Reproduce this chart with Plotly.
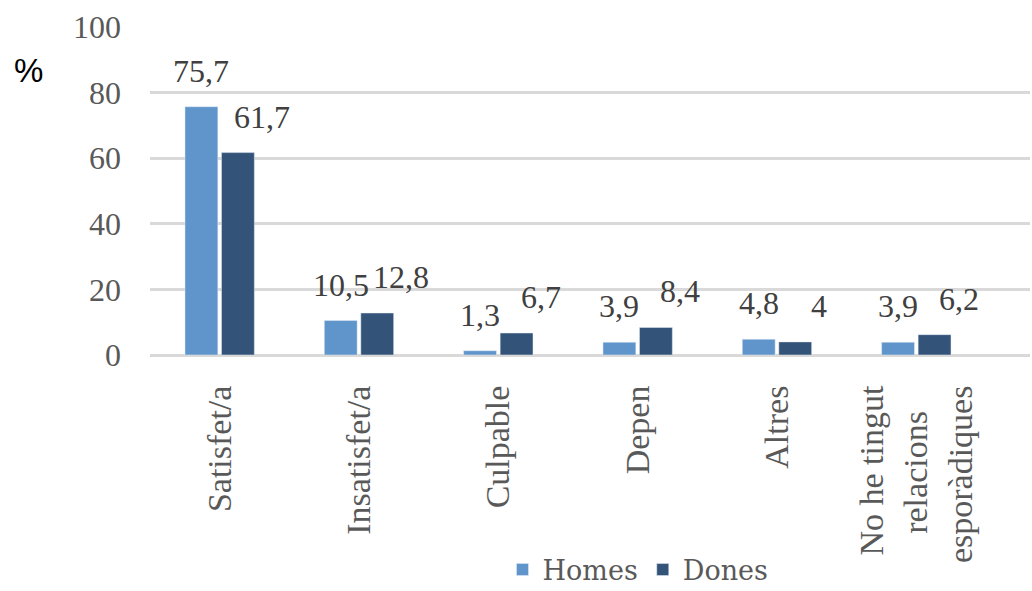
import plotly.graph_objects as go

NB = "\u00a0"
categories = ["Satisfet/a", "Insatisfet/a", "Culpable", "Depen", "Altres",
              "No he tingut<br>relacions" + NB * 3 + "<br>esporàdiques"]
homes = [75.7, 10.5, 1.3, 3.9, 4.8, 3.9]
dones = [61.7, 12.8, 6.7, 8.4, 4.0, 6.2]
y_ticks = [0, 20, 40, 60, 80, 100]

c_homes = "#5F95CA"
c_dones = "#345378"
serif = "Times New Roman, Liberation Serif, serif"
gray = "#595959"

def fmt(v):
    s = ("%.1f" % v).replace(".", ",")
    return s[:-2] if s.endswith(",0") else s

fig = go.Figure()
fig.add_bar(x=categories, y=homes, name="Homes", marker_color=c_homes,
            offsetgroup="h")
fig.add_bar(x=categories, y=dones, name="Dones", marker_color=c_dones,
            offsetgroup="d")

W, H, L, R, T, B = 1032, 591, 150, 2, 27, 236
x_range = [-0.5, 5.816]
bargap = 0.476
cat_w = (W - L - R) / (x_range[1] - x_range[0])
bar_slot = cat_w * (1 - bargap) / 2
ph = H - T - B
pw = W - L - R

for i, (h, d) in enumerate(zip(homes, dones)):
    fig.add_annotation(x=categories[i], y=h, text=fmt(h), showarrow=False,
                       xshift=-bar_slot / 2, yshift=16, yanchor="bottom",
                       font=dict(family=serif, size=32, color="#404040"))
    fig.add_annotation(x=categories[i], y=d, text=fmt(d), showarrow=False,
                       xshift=bar_slot / 2 + 24, yshift=16, yanchor="bottom",
                       font=dict(family=serif, size=32, color="#404040"))

fig.add_annotation(xref="paper", yref="paper", x=(12 - L) / pw,
                   y=1 - (70 - T) / ph, text="%",
                   showarrow=False, xanchor="left", yanchor="middle",
                   font=dict(family="Liberation Sans, Arial", size=33, color="black"))

fig.update_layout(
    width=W, height=H,
    margin=dict(l=L, r=R, t=T, b=B, autoexpand=False),
    paper_bgcolor="white", plot_bgcolor="white",
    barmode="group", bargap=bargap, bargroupgap=0.1,
    showlegend=True,
    legend=dict(orientation="h", x=(638 - L) / pw, xanchor="center",
                y=1 - (570 - T) / ph, yanchor="middle",
                font=dict(family="DejaVu Serif", size=27, color=gray),
                traceorder="normal"),
    xaxis=dict(range=x_range, tickangle=-90,
               tickfont=dict(family=serif, size=34, color=gray),
               showgrid=False, showline=False, ticks="outside", ticklen=16,
               tickcolor="rgba(0,0,0,0)"),
    yaxis=dict(range=[0, 100], tickvals=y_ticks, showgrid=True,
               gridcolor="#D9D9D9", gridwidth=3, zeroline=True,
               zerolinecolor="#D9D9D9", zerolinewidth=3,
               tickfont=dict(family=serif, size=32, color=gray),
               ticklabelstandoff=28, showline=False),
)

fig.write_html("out.html", config={"displayModeBar": False},
               post_script="document.body.style.margin='0';"
                           "document.body.style.overflow='hidden';")
